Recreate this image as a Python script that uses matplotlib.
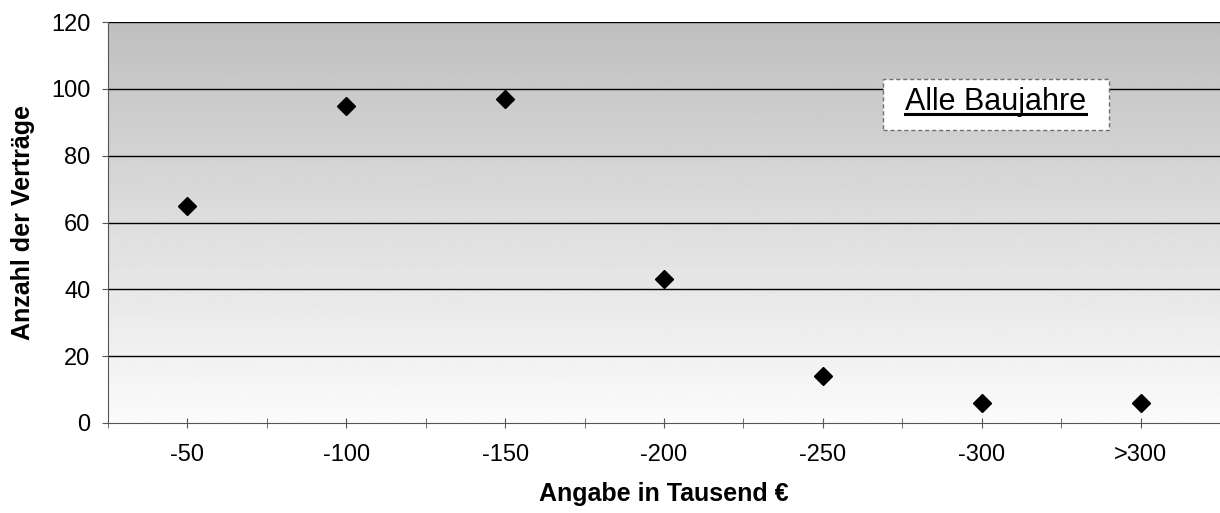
"""Anzahl der Verträge nach Angabe in Tausend Euro."""

import matplotlib

matplotlib.use("Agg")

import matplotlib.pyplot as plt
import numpy as np
from matplotlib.lines import Line2D
from matplotlib.patches import Rectangle

plt.rcParams["font.family"] = ["Liberation Sans", "DejaVu Sans"]

categories = ["-50", "-100", "-150", "-200", "-250", "-300", ">300"]
counts = [65, 95, 97, 43, 14, 6, 6]
y_ticks = [0, 20, 40, 60, 80, 100, 120]
legend_text = "Alle Baujahre"

fig = plt.figure(figsize=(12.2, 5.13), dpi=100)
ax = fig.add_axes([0.0885, 0.1755, 0.9115, 0.7815])

x = np.arange(len(categories))
ax.set_xlim(-0.5, len(categories) - 0.5)
ax.set_ylim(0, 120)

# grey gradient background, dark at the top
grad = np.linspace(0.985, 0.75, 256).reshape(-1, 1)
ax.imshow(grad, cmap="gray", vmin=0, vmax=1, aspect="auto",
          extent=[-0.5, len(categories) - 0.5, 0, 120], origin="lower", zorder=0)

for yv in y_ticks[1:]:
    ax.axhline(yv, color="black", lw=1.0, zorder=1)

ax.plot(x, counts, linestyle="none", marker="D", ms=9.5, color="black", zorder=3)

for side in ["top", "right"]:
    ax.spines[side].set_visible(False)
ax.spines["left"].set_color("#555555")
ax.spines["bottom"].set_color("#555555")

ax.set_yticks(y_ticks)
ax.set_yticklabels([str(v) for v in y_ticks], fontsize=17)
ax.tick_params(axis="y", direction="out", length=4.5, color="#555555", pad=8)

ax.set_xticks(x)
ax.set_xticklabels(categories, fontsize=17)
ax.set_xticks(np.arange(-0.5, len(categories), 1.0), minor=True)
ax.tick_params(axis="x", which="both", direction="inout", length=7,
               color="#555555", pad=12)

ax.set_ylabel("Anzahl der Verträge", fontsize=18, fontweight="bold", labelpad=12)
ax.set_xlabel("Angabe in Tausend €", fontsize=18, fontweight="bold", labelpad=11)

# label box with dashed border and underlined text
box = Rectangle((0.697, 0.7315), 0.203, 0.127, transform=ax.transAxes,
                facecolor="white", edgecolor="#707070", linestyle=(0, (3, 2)),
                lw=1.0, zorder=4)
ax.add_patch(box)
txt = ax.text(0.7985, 0.80, legend_text, transform=ax.transAxes, fontsize=22,
              ha="center", va="center", zorder=5)

fig.canvas.draw()
bb = txt.get_window_extent().transformed(ax.transAxes.inverted())
ax.add_line(Line2D([bb.x0, bb.x1], [bb.y0 + 0.008, bb.y0 + 0.008],
                   transform=ax.transAxes, color="black", lw=2.2, zorder=5))

fig.savefig("out.png", dpi=100)
